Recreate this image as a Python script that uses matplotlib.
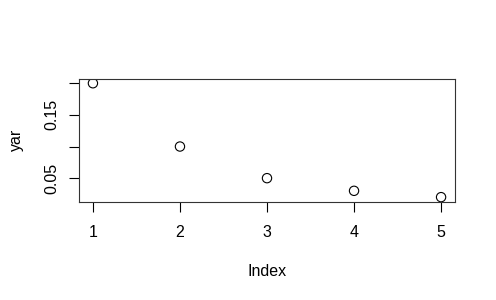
import matplotlib.pyplot as plt

# data
index = [1, 2, 3, 4, 5]
yar = [0.2, 0.1, 0.05, 0.03, 0.02]
yticks = [0.05, 0.10, 0.15, 0.20]
ytick_labels = ['0.05', '', '0.15', '']

plt.rcParams['font.family'] = ['Liberation Sans', 'DejaVu Sans']

fig = plt.figure(figsize=(4.96, 3.0), dpi=100)
ax = fig.add_axes([79 / 496, 1 - 201.7 / 300, (455 - 79) / 496, (201.7 - 78.7) / 300])

ax.scatter(index, yar, s=45, facecolors='none', edgecolors='black', linewidths=0.8)

# R style padding of 4% on each side
ax.set_xlim(0.84, 5.16)
ax.set_ylim(0.0128, 0.2072)

ax.set_xticks(index)
ax.set_yticks(yticks)
ax.set_yticklabels(ytick_labels, rotation=90, va='center')
ax.tick_params(length=7, width=0.8, labelsize=11.5, pad=10)
ax.tick_params(axis='y', pad=7)
for s in ax.spines.values():
    s.set_linewidth(0.8)
    s.set_color('#333333')

ax.set_xlabel('Index', fontsize=11.5, labelpad=17)
ax.set_ylabel('yar', fontsize=11.5, labelpad=15)

fig.savefig('out.png', dpi=100)
